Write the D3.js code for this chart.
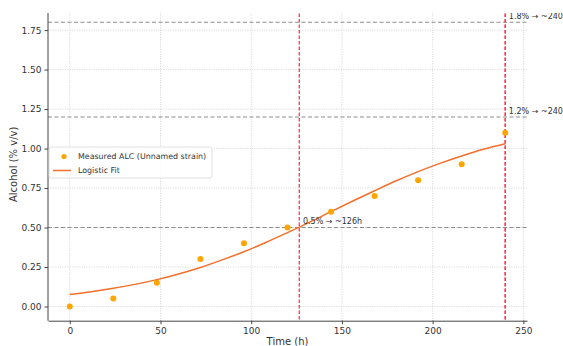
<!DOCTYPE html>
<html><head><meta charset="utf-8">
<script src="https://cdn.jsdelivr.net/npm/d3@7"></script>
<style>body{margin:0;background:#fff}svg{display:block}text{font-family:"DejaVu Sans",sans-serif}</style>
</head><body><svg id="c" width="563" height="346"></svg>
<script>
// Data
const times = [0, 24, 48, 72, 96, 120, 144, 168, 192, 216, 240];
const alc = [0.00, 0.05, 0.15, 0.30, 0.40, 0.50, 0.60, 0.70, 0.80, 0.90, 1.10];
const fitTimes = [0,12,24,36,48,60,72,84,96,108,120,132,144,156,168,180,192,204,216,228,240];
const fitValues = [0.076,0.093,0.115,0.140,0.170,0.206,0.247,0.295,0.347,0.405,0.468,0.533,0.601,0.668,0.733,0.796,0.854,0.906,0.953,0.995,1.030];
const xTicks = [0, 50, 100, 150, 200, 250];
const yTicks = [0.00, 0.25, 0.50, 0.75, 1.00, 1.25, 1.50, 1.75];
const thresholds = [0.5, 1.2, 1.8];
const crossTimes = [126.5, 240, 240];
const annoLabels = ["0.5% → ~126h", "1.2% → ~240", "1.8% → ~240"];
const seriesNames = ["Measured ALC (Unnamed strain)", "Logistic Fit"];

const svg = d3.select("#c");
const L = 48, R = 527, T = 8, B = 320.7;
const x = d3.scaleLinear().domain([-12, 252]).range([L, R]);
const y = d3.scaleLinear().domain([-0.09, 1.89]).range([B, T]);

svg.append("defs").append("clipPath").attr("id","vis")
  .append("rect").attr("x",0).attr("y",13).attr("width",563).attr("height",340);
const g = svg.append("g").attr("clip-path","url(#vis)");

// grid
g.append("g").selectAll("line").data(xTicks).join("line")
  .attr("x1",d=>x(d)).attr("x2",d=>x(d)).attr("y1",T).attr("y2",B)
  .attr("stroke","#d2d2d2").attr("stroke-width",0.8).attr("stroke-dasharray","1.2,1.2");
g.append("g").selectAll("line").data(yTicks).join("line")
  .attr("y1",d=>y(d)).attr("y2",d=>y(d)).attr("x1",L).attr("x2",R)
  .attr("stroke","#d2d2d2").attr("stroke-width",0.8).attr("stroke-dasharray","1.2,1.2");

// threshold lines
g.append("g").selectAll("line").data(thresholds).join("line")
  .attr("y1",d=>y(d)).attr("y2",d=>y(d)).attr("x1",L).attr("x2",R)
  .attr("stroke","#8c8c8c").attr("stroke-width",1.1).attr("stroke-dasharray","4,2.5");
g.append("g").selectAll("line").data(crossTimes).join("line")
  .attr("x1",d=>x(d)).attr("x2",d=>x(d)).attr("y1",T).attr("y2",B)
  .attr("stroke","#ff3850").attr("stroke-width",1.3).attr("stroke-dasharray","3.5,2");

// fit line
g.append("path").datum(fitTimes.map((t,i)=>[t,fitValues[i]]))
  .attr("d", d3.line().x(d=>x(d[0])).y(d=>y(d[1])).curve(d3.curveMonotoneX))
  .attr("fill","none").attr("stroke","#f26f2c").attr("stroke-width",1.5);

// points
g.append("g").selectAll("circle").data(times).join("circle")
  .attr("cx",d=>x(d)).attr("cy",(d,i)=>y(alc[i])).attr("r",3)
  .attr("fill","#ffa500");

// annotations
g.append("g").selectAll("text").data(thresholds).join("text")
  .attr("x",(d,i)=>x(crossTimes[i]+2)).attr("y",d=>y(d+0.02))
  .attr("font-size",8).attr("fill","#333").text((d,i)=>annoLabels[i]);

// axes
const ax = svg.append("g").attr("transform",`translate(0,${B})`)
  .call(d3.axisBottom(x).tickValues(xTicks).tickFormat(d3.format("d")).tickSize(3.5).tickSizeOuter(0).tickPadding(3));
const ay = svg.append("g").attr("transform",`translate(${L},0)`)
  .call(d3.axisLeft(y).tickValues(yTicks).tickFormat(d3.format(".2f")).tickSize(3.5).tickSizeOuter(0).tickPadding(3));
[ax, ay].forEach(a=>{
  a.select(".domain").attr("stroke","#444").attr("stroke-width",1);
  a.selectAll(".tick line").attr("stroke","#444");
  a.selectAll(".tick text").attr("font-size",9).attr("fill","#333").attr("font-family","DejaVu Sans");
});
ay.select(".domain").attr("d",`M0,13V${B}`);

// axis labels
svg.append("text").attr("x",(L+R)/2).attr("y",345).attr("text-anchor","middle")
  .attr("font-size",10).attr("fill","#333").text("Time (h)");
svg.append("text").attr("transform",`translate(17,${(T+B)/2}) rotate(-90)`).attr("text-anchor","middle")
  .attr("font-size",10).attr("fill","#333").text("Alcohol (% v/v)");

// legend
const lg = svg.append("g").attr("transform","translate(49,147)");
lg.append("rect").attr("width",163).attr("height",31).attr("rx",2)
  .attr("fill","#fff").attr("fill-opacity",0.85).attr("stroke","#d8d8d8").attr("stroke-width",0.8);
lg.append("circle").attr("cx",15).attr("cy",9.5).attr("r",2.6).attr("fill","#ffa500");
lg.append("line").attr("x1",4).attr("x2",22).attr("y1",23.5).attr("y2",23.5).attr("stroke","#f26f2c").attr("stroke-width",1.5);
lg.selectAll("text").data(seriesNames).join("text")
  .attr("x",29).attr("y",(d,i)=>12.3+i*14).attr("font-size",7.9).attr("fill","#333").text(d=>d);
</script></body></html>
